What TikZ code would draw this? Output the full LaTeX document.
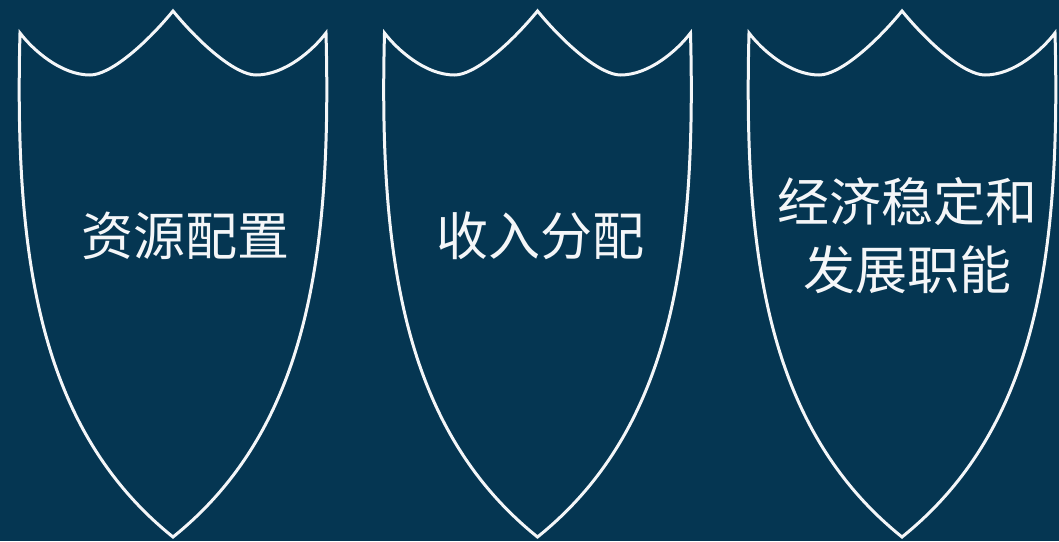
\documentclass[tikz,border=0pt]{standalone}
\usepackage{fontspec}
\setmainfont{Noto Sans CJK SC}
\usepackage{xcolor}
\definecolor{navy}{HTML}{053652}
\definecolor{chalk}{HTML}{F4F6F8}

\begin{document}
\begin{tikzpicture}[x=1pt,y=-1pt]
	\tikzstyle{shield} = [draw=chalk, line width=3]
	\tikzstyle{title} = [text=chalk, font=\fontsize{52}{68}\selectfont, align=center, inner sep=0]
	\fill[navy] (0,0) rectangle (1059,541);
	\useasboundingbox (0,0) rectangle (1059,541);
	% three shields
	\foreach \cx in {173,537.5,902}
		\draw[shield] (\cx-153,33)
			.. controls (\cx-140,50) and (\cx-112,75) .. (\cx-83,75)
			.. controls (\cx-63,75) and (\cx-28,45) .. (\cx,11)
			.. controls (\cx+28,45) and (\cx+63,75) .. (\cx+83,75)
			.. controls (\cx+112,75) and (\cx+140,50) .. (\cx+153,33)
			.. controls (\cx+159,260) and (\cx+133,430) .. (\cx,537)
			.. controls (\cx-133,430) and (\cx-159,260) .. cycle;
	\node[title] (res) at (185,236) {资源配置};
	\node[title] (inc) at (540,236) {收入分配};
	\node[title] (stab) at (907,236) {经济稳定和\\发展职能};
\end{tikzpicture}
\end{document}
